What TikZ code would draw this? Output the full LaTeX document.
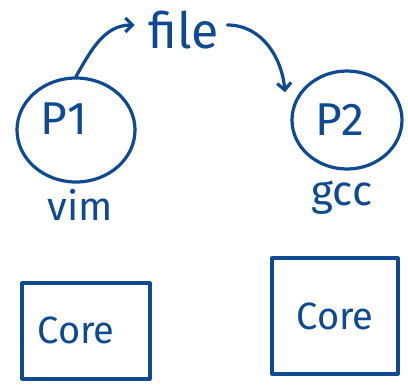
\documentclass[tikz,border=0pt]{standalone}
\usepackage{fontspec}
\setmainfont{Fira Sans}
\usetikzlibrary{shapes.geometric,arrows.meta}
\definecolor{ink}{RGB}{14,74,146}
\tikzset{
  stroke/.style={draw=ink,line width=3.2pt,line cap=round,line join=round},
  proc/.style={stroke,ellipse,inner sep=0pt},
  lbl/.style={text=ink,inner sep=0pt},
  corebox/.style={stroke,rectangle,inner sep=0pt,text=ink},
  arr/.style={stroke,-{Straight Barb[length=7pt,width=14pt,line width=3.2pt]}}
}
\begin{document}
\begin{tikzpicture}[x=1pt,y=-1pt]
\useasboundingbox (0,0) rectangle (408,384);
\node[proc,minimum width=118pt,minimum height=104pt] (p1) at (76,130) {};
\node[lbl,font=\fontsize{46}{50}\selectfont] (p1t) at (64,119) {P1};
\node[lbl,font=\fontsize{40}{44}\selectfont] (vim) at (80,205) {vim};
\node[proc,minimum width=110pt,minimum height=98pt] (p2) at (347,120) {};
\node[lbl,font=\fontsize{46}{50}\selectfont] (p2t) at (340,120) {P2};
\node[lbl,font=\fontsize{42}{46}\selectfont] (gcc) at (342,198) {gcc};
\node[lbl,font=\fontsize{50}{54}\selectfont] (file) at (184,30) {file};
\node[corebox,minimum width=128pt,minimum height=96pt] (c1) at (86,331) {};
\node[lbl,font=\fontsize{38}{42}\selectfont] (c1t) at (76,330) {Core};
\node[corebox,minimum width=126pt,minimum height=116pt,font=\fontsize{38}{42}\selectfont] (c2) at (335,316) {Core};
\draw[arr] (p1.north) to[out=60,in=180] ([xshift=-14pt,yshift=5pt]file.west);
\draw[arr] ([xshift=8pt,yshift=5pt]file.east) to[out=0,in=95] ([xshift=-22pt,yshift=-8pt]p2.north west);
\end{tikzpicture}
\end{document}
